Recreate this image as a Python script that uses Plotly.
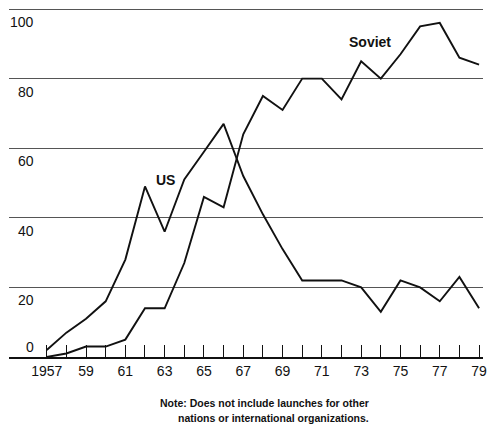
import plotly.graph_objects as go

years = list(range(1957, 1980))
us = [2, 7, 11, 16, 28, 49, 36, 51, 59, 67, 52, 41, 31, 22, 22, 22, 20, 13, 22, 20, 16, 23, 14]
soviet = [0, 1, 3, 3, 5, 14, 14, 27, 46, 43, 64, 75, 71, 80, 80, 74, 85, 80, 87, 95, 96, 86, 84]
y_ticks = [0, 20, 40, 60, 80, 100]
x_ticktext = [("1957" if y == 1957 else str(y)[2:]) if (y - 1957) % 2 == 0 else "" for y in years]

FONT = "Liberation Sans, Arial, sans-serif"
INK = "#111111"

fig = go.Figure()
fig.add_trace(go.Scatter(x=years, y=us, mode="lines", name="US",
                         line=dict(color=INK, width=1.9), showlegend=False))
fig.add_trace(go.Scatter(x=years, y=soviet, mode="lines", name="Soviet",
                         line=dict(color=INK, width=1.9), showlegend=False))

annotations = []
for v in y_ticks:
    if v == 0:
        annotations.append(dict(x=1956.45, y=v, xref="x", yref="y", text=str(v),
                                showarrow=False, xanchor="right", yanchor="bottom",
                                yshift=0, font=dict(family=FONT, size=14, color=INK)))
    else:
        annotations.append(dict(x=1956.45, y=v, xref="x", yref="y", text=str(v),
                                showarrow=False, xanchor="right", yanchor="top",
                                yshift=-3, font=dict(family=FONT, size=14, color=INK)))

annotations.append(dict(x=1963.02, y=50.9, xref="x", yref="y", text="<b>US</b>",
                        showarrow=False, font=dict(family=FONT, size=14, color=INK)))
annotations.append(dict(x=1973.43, y=90.4, xref="x", yref="y", text="<b>Soviet</b>",
                        showarrow=False, font=dict(family=FONT, size=14, color=INK)))
annotations.append(dict(x=0.7637, y=-0.1534, xref="paper", yref="paper", xanchor="right",
                        text="<b>Note: Does not include launches for other</b>",
                        showarrow=False, font=dict(family=FONT, size=10.5, color=INK)))
annotations.append(dict(x=0.7637, y=-0.196, xref="paper", yref="paper", xanchor="right",
                        text="<b>nations or international organizations.</b>",
                        showarrow=False, font=dict(family=FONT, size=10.5, color=INK)))

fig.update_layout(
    width=490, height=432,
    margin=dict(l=9, r=7, t=5, b=75),
    paper_bgcolor="white", plot_bgcolor="white",
    annotations=annotations,
    xaxis=dict(range=[1955.08, 1979.2], tickvals=years, ticktext=x_ticktext,
               showgrid=False, zeroline=False, showline=True, linecolor=INK,
               linewidth=1.5, ticks="inside", ticklen=12, tickwidth=1.2,
               tickcolor=INK, tickfont=dict(family=FONT, size=14, color=INK),
               automargin=False),
    yaxis=dict(range=[0, 101.15], tickvals=y_ticks[1:], showticklabels=False,
               showgrid=True, gridcolor="#555555", gridwidth=1.2, zeroline=False,
               showline=False, ticks="", automargin=False),
)

fig.write_html("out.html", config={"displayModeBar": False},
               post_script="document.body.style.margin='0';document.body.style.overflow='hidden';")
